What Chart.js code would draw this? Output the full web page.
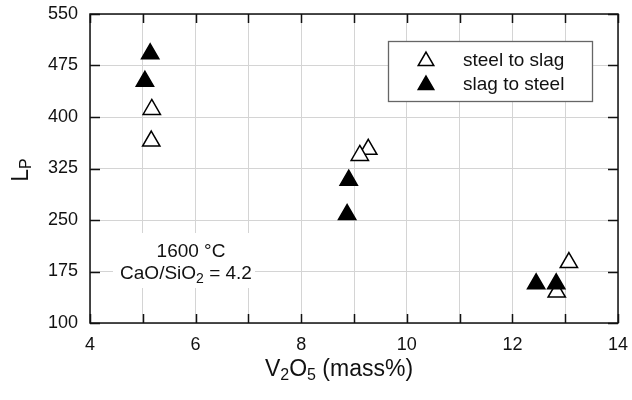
<!DOCTYPE html>
<html>
<head>
<meta charset="utf-8">
<script src="https://cdn.jsdelivr.net/npm/chart.js@4.4.0/dist/chart.umd.min.js"></script>
<style>
    html, body { margin: 0; padding: 0; background: #fff; }
</style>
</head>
<body>
<canvas id="chart" width="632" height="400"></canvas>
<script>
// Data
const steelToSlagX = [5.17, 5.16, 9.27, 9.11, 13.07, 12.84];
const steelToSlagY = [411, 365, 353, 344, 188, 145];
const slagToSteelX = [5.14, 5.04, 8.90, 8.87, 12.45, 12.83];
const slagToSteelY = [492, 452, 308, 258, 157, 157];
const xTickLabels = [4, 6, 8, 10, 12, 14];
const yTickLabels = [100, 175, 250, 325, 400, 475, 550];
const seriesNames = ['steel to slag', 'slag to steel'];

const FONT = '"Liberation Sans", Arial, sans-serif';
const INK = '#111';

function toPoints(xs, ys) {
    return xs.map((x, i) => ({ x, y: ys[i] }));
}

// Draw text with subscript parts: parts = [[text, isSub], ...]
function drawRich(ctx, parts, x, y, size, subSize, subShift, align) {
    let total = 0;
    parts.forEach(([t, sub]) => {
        ctx.font = (sub ? subSize : size) + 'px ' + FONT;
        total += ctx.measureText(t).width;
    });
    let cx = align === 'center' ? x - total / 2 : x;
    ctx.textAlign = 'left';
    ctx.textBaseline = 'alphabetic';
    parts.forEach(([t, sub]) => {
        ctx.font = (sub ? subSize : size) + 'px ' + FONT;
        ctx.fillText(t, cx, sub ? y + subShift : y);
        cx += ctx.measureText(t).width;
    });
}

function triangle(ctx, x, y, r, fill) {
    ctx.beginPath();
    ctx.moveTo(x, y - r);
    ctx.lineTo(x + r * Math.sin(Math.PI / 3), y + r / 2);
    ctx.lineTo(x - r * Math.sin(Math.PI / 3), y + r / 2);
    ctx.closePath();
    ctx.fillStyle = fill;
    ctx.fill();
    ctx.lineWidth = 1.5;
    ctx.strokeStyle = '#000';
    ctx.stroke();
}

// fixed plot box: drop the label overflow padding Chart.js adds
function fixBox(size, key) {
    return s => {
        s[key] = size;
        s.paddingTop = 0; s.paddingBottom = 0;
        s.paddingLeft = 0; s.paddingRight = 0;
    };
}

const decorations = {
    id: 'decorations',
    afterDraw(chart) {
        const ctx = chart.ctx;
        const area = chart.chartArea;
        const xs = chart.scales.x;
        const ys = chart.scales.y;
        ctx.save();

        // inward tick marks on all four sides
        ctx.strokeStyle = INK;
        ctx.lineWidth = 1.5;
        ctx.beginPath();
        xs.ticks.forEach(t => {
            const px = Math.round(xs.getPixelForValue(t.value)) + 0.5;
            ctx.moveTo(px, area.bottom); ctx.lineTo(px, area.bottom - 9);
            ctx.moveTo(px, area.top); ctx.lineTo(px, area.top + 9);
        });
        ys.ticks.forEach(t => {
            const py = Math.round(ys.getPixelForValue(t.value)) + 0.5;
            ctx.moveTo(area.left, py); ctx.lineTo(area.left + 10, py);
            ctx.moveTo(area.right, py); ctx.lineTo(area.right - 10, py);
        });
        ctx.stroke();

        // frame
        ctx.strokeRect(area.left, area.top, area.right - area.left, area.bottom - area.top);

        // annotation
        ctx.fillStyle = '#fff';
        ctx.fillRect(113, 233, 142, 55);
        ctx.fillStyle = INK;
        drawRich(ctx, [['1600 °C', false]], 191, 257, 19, 14, 4, 'center');
        drawRich(ctx, [['CaO/SiO', false], ['2', true], [' = 4.2', false]], 186, 279, 19, 14, 4, 'center');

        // legend
        ctx.fillStyle = '#fff';
        ctx.fillRect(388, 41, 204, 60);
        ctx.strokeStyle = '#666';
        ctx.lineWidth = 1.3;
        ctx.strokeRect(388.5, 41.5, 204, 60);
        triangle(ctx, 426, 61, 9, '#fff');
        triangle(ctx, 426, 85, 9, '#000');
        ctx.fillStyle = INK;
        drawRich(ctx, [[seriesNames[0], false]], 463, 66, 19, 14, 4, 'left');
        drawRich(ctx, [[seriesNames[1], false]], 463, 90, 19, 14, 4, 'left');

        // axis titles
        drawRich(ctx, [['V', false], ['2', true], ['O', false], ['5', true], [' (mass%)', false]],
            339, 376, 23, 16, 4, 'center');
        ctx.translate(28, 170);
        ctx.rotate(-Math.PI / 2);
        drawRich(ctx, [['L', false], ['P', true]], 0, 0, 23, 16, 3, 'center');

        ctx.restore();
    }
};

new Chart(document.getElementById('chart'), {
    type: 'scatter',
    data: {
        datasets: [
            {
                label: seriesNames[1],
                data: toPoints(slagToSteelX, slagToSteelY),
                pointStyle: 'triangle',
                pointRadius: 10,
                backgroundColor: '#000',
                borderColor: '#000',
                borderWidth: 1.5
            },
            {
                label: seriesNames[0],
                data: toPoints(steelToSlagX, steelToSlagY),
                pointStyle: 'triangle',
                pointRadius: 10,
                backgroundColor: '#fff',
                borderColor: '#000',
                borderWidth: 1.5
            }
        ]
    },
    options: {
        responsive: false,
        animation: false,
        devicePixelRatio: 1,
        layout: { padding: { top: 14, right: 14, left: 0, bottom: 0 } },
        plugins: {
            legend: { display: false },
            tooltip: { enabled: false }
        },
        scales: {
            x: {
                type: 'linear',
                min: 4,
                max: 14,
                afterFit: fixBox(77, 'height'),
                border: { display: false },
                grid: { color: '#d4d4d4', lineWidth: 1, drawTicks: false },
                ticks: {
                    stepSize: 1,
                    autoSkip: false,
                    maxRotation: 0,
                    padding: 11,
                    color: INK,
                    font: { family: FONT, size: 18 },
                    callback: v => xTickLabels.includes(v) ? String(v) : ''
                }
            },
            y: {
                type: 'linear',
                min: 100,
                max: 550,
                afterFit: fixBox(90, 'width'),
                border: { display: false },
                grid: { color: '#d4d4d4', lineWidth: 1, drawTicks: false },
                ticks: {
                    stepSize: 75,
                    autoSkip: false,
                    padding: 12,
                    color: INK,
                    font: { family: FONT, size: 18 },
                    callback: v => yTickLabels.includes(v) ? String(v) : ''
                }
            }
        }
    },
    plugins: [decorations]
});
</script>
</body>
</html>
